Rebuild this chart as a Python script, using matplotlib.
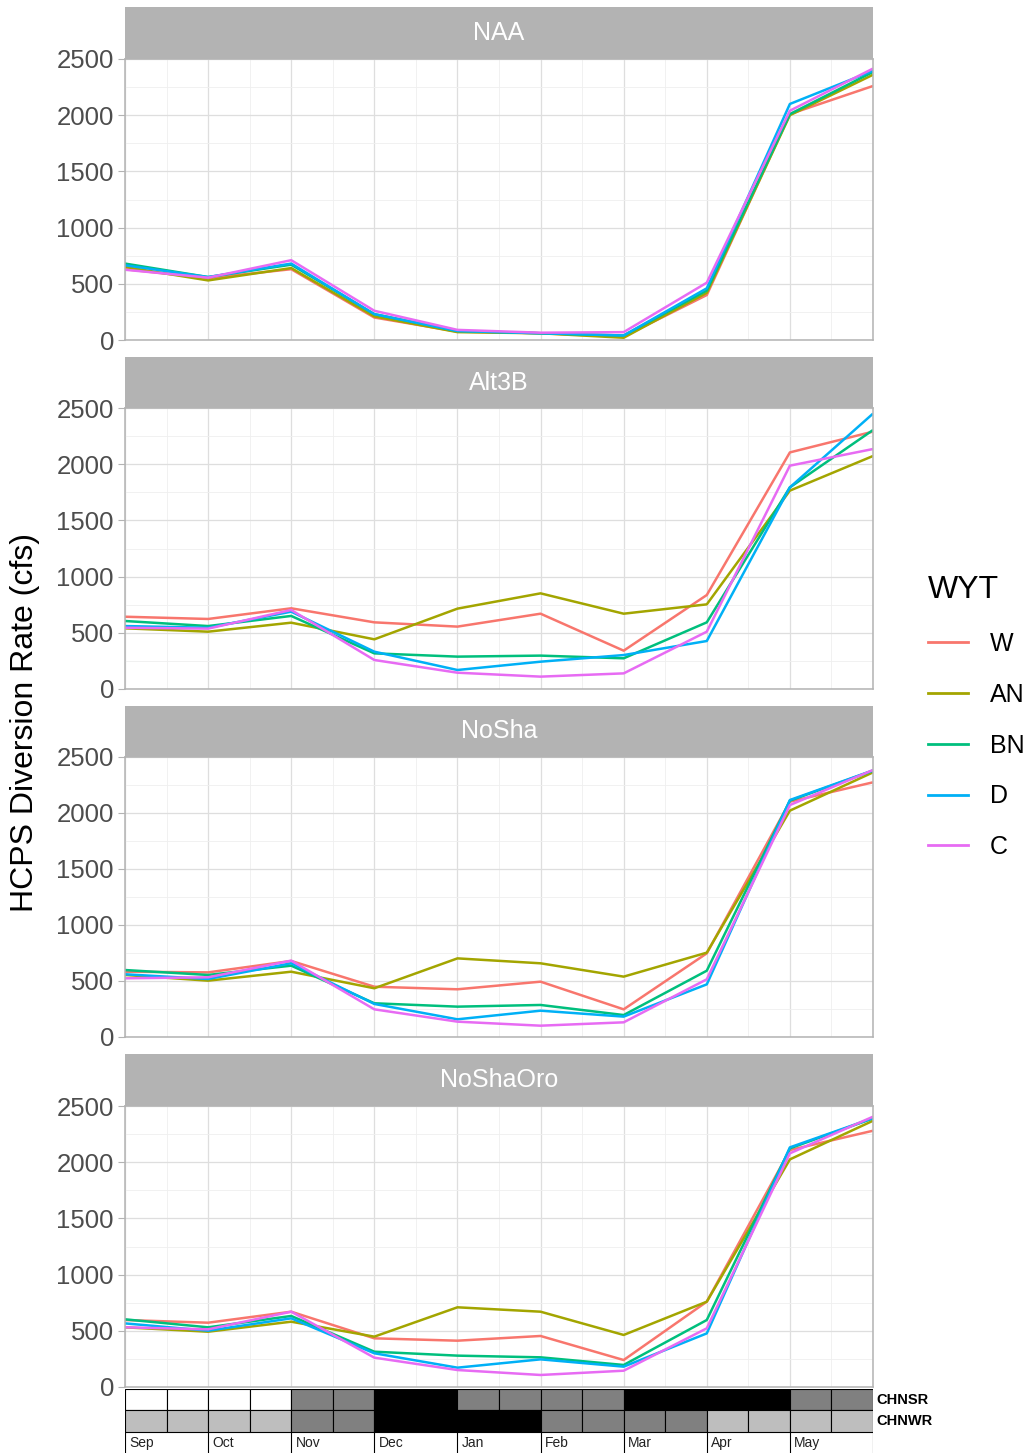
import numpy as np
import matplotlib
matplotlib.use("Agg")
import matplotlib.pyplot as plt
from matplotlib.patches import Rectangle
from matplotlib.lines import Line2D

plt.rcParams['font.family'] = ['Liberation Sans', 'DejaVu Sans']

# months on x axis (Sep..Jun), data at each month start
months = ["Sep", "Oct", "Nov", "Dec", "Jan", "Feb", "Mar", "Apr", "May", "Jun"]
wyt = ["W", "AN", "BN", "D", "C"]
colors = ["#F8766D", "#A3A500", "#00BF7D", "#00B0F6", "#E76BF3"]
scenarios = ["NAA", "Alt3B", "NoSha", "NoShaOro"]

naa_W  = [630, 550, 630, 200, 75, 60, 30, 400, 2010, 2260]
naa_AN = [650, 530, 640, 210, 70, 60, 20, 420, 2000, 2360]
naa_BN = [680, 560, 670, 230, 80, 60, 40, 440, 2010, 2385]
naa_D  = [665, 560, 680, 230, 80, 60, 40, 460, 2100, 2395]
naa_C  = [625, 555, 710, 260, 90, 65, 70, 510, 2040, 2415]

alt_W  = [643, 623, 718, 593, 555, 670, 341, 836, 2105, 2290]
alt_AN = [540, 510, 590, 442, 715, 851, 670, 753, 1765, 2073]
alt_BN = [605, 560, 650, 317, 288, 297, 273, 593, 1794, 2304]
alt_D  = [560, 545, 688, 332, 169, 243, 302, 427, 1794, 2450]
alt_C  = [545, 537, 703, 258, 145, 110, 139, 510, 1987, 2135]

nosha_W  = [583, 577, 679, 449, 426, 494, 247, 747, 2101, 2274]
nosha_AN = [554, 503, 583, 435, 702, 658, 539, 753, 2021, 2363]
nosha_BN = [598, 554, 637, 301, 271, 286, 196, 592, 2110, 2378]
nosha_D  = [560, 518, 658, 295, 158, 235, 182, 470, 2116, 2380]
nosha_C  = [524, 533, 682, 247, 137, 101, 131, 515, 2071, 2384]

oro_W  = [596, 572, 670, 433, 412, 454, 240, 759, 2108, 2280]
oro_AN = [531, 492, 581, 448, 709, 670, 463, 759, 2025, 2369]
oro_BN = [602, 531, 632, 314, 279, 264, 196, 596, 2123, 2390]
oro_D  = [566, 501, 611, 300, 172, 246, 181, 477, 2132, 2392]
oro_C  = [531, 513, 670, 261, 151, 107, 145, 522, 2079, 2405]

series = {
    "NAA": [naa_W, naa_AN, naa_BN, naa_D, naa_C],
    "Alt3B": [alt_W, alt_AN, alt_BN, alt_D, alt_C],
    "NoSha": [nosha_W, nosha_AN, nosha_BN, nosha_D, nosha_C],
    "NoShaOro": [oro_W, oro_AN, oro_BN, oro_D, oro_C],
}

# half-month run timing codes: 0 white, 1 light, 2 mid, 3 black
chnsr = [0, 0, 0, 0, 2, 2, 3, 3, 2, 2, 2, 2, 3, 3, 3, 3, 2, 2]
chnwr = [1, 1, 1, 1, 2, 2, 3, 3, 3, 3, 2, 2, 2, 2, 1, 1, 1, 1]
code_col = {0: "#ffffff", 1: "#bebebe", 2: "#808080", 3: "#000000"}
strip_months = months[:-1]

W, H = 1029, 1454
fig = plt.figure(figsize=(W / 100, H / 100), dpi=100)

def rect(x0, y0, x1, y1):
    return [x0 / W, 1 - y1 / H, (x1 - x0) / W, (y1 - y0) / H]

left, right = 125, 873
panels = [(7, 59, 340), (357, 408, 689), (706, 757, 1037), (1054, 1106, 1387)]
x = np.arange(1, len(months) + 1)

for name, (st, top, bot) in zip(scenarios, panels):
    sax = fig.add_axes(rect(left, st, right, top))
    sax.set_facecolor("#b3b3b3")
    sax.set_xticks([]); sax.set_yticks([])
    for s in sax.spines.values():
        s.set_visible(False)
    sax.text(0.5, 0.5, name, color="white", fontsize=18, ha="center", va="center",
             transform=sax.transAxes)

    ax = fig.add_axes(rect(left, top, right, bot))
    for vals, c, lab in zip(series[name], colors, wyt):
        ax.plot(x, vals, color=c, lw=1.8, label=lab, solid_capstyle="butt")
    ax.set_xlim(1, 10)
    ax.set_ylim(0, 2500)
    ax.set_xticks(x)
    ax.set_xticks(np.arange(1.5, 10, 1), minor=True)
    ax.set_yticks(np.arange(0, 2501, 500))
    ax.set_yticks(np.arange(250, 2500, 500), minor=True)
    ax.grid(which="major", color="#dedede", lw=0.9)
    ax.grid(which="minor", color="#efefef", lw=0.6)
    ax.set_axisbelow(True)
    ax.tick_params(axis="x", which="both", bottom=False, labelbottom=False)
    ax.tick_params(axis="y", which="minor", left=False)
    ax.tick_params(axis="y", which="major", colors="#b3b3b3", length=5,
                   labelcolor="#4d4d4d", labelsize=18.5, pad=3)
    for s in ax.spines.values():
        s.set_color("#b3b3b3")
        s.set_linewidth(1.1)

# run timing strip under the panels
bax = fig.add_axes(rect(left, 1389, right, 1453))
n = len(chnsr)
for i in range(n):
    bax.add_patch(Rectangle((i, 2), 1, 1, facecolor=code_col[chnsr[i]], edgecolor="black", lw=0.8))
    bax.add_patch(Rectangle((i, 1), 1, 1, facecolor=code_col[chnwr[i]], edgecolor="black", lw=0.8))
for j, m in enumerate(strip_months):
    bax.plot([2 * j, 2 * j], [0, 1], color="black", lw=0.8)
    bax.text(2 * j + 0.1, 0.45, m, fontsize=10, ha="left", va="center", color="#222222")
bax.plot([n, n], [0, 1], color="black", lw=0.8)
bax.set_xlim(0, n)
bax.set_ylim(0, 3)
bax.axis("off")
bax.text(n + 0.08, 2.5, "CHNSR", fontsize=10.5, fontweight="bold", ha="left", va="center")
bax.text(n + 0.08, 1.5, "CHNWR", fontsize=10.5, fontweight="bold", ha="left", va="center")

fig.text(25 / W, 1 - 722 / H, "HCPS Diversion Rate (cfs)", rotation=90, fontsize=23,
         ha="center", va="center")

handles = [Line2D([0], [0], color=c, lw=2) for c in colors]
leg = fig.legend(handles, wyt, title="WYT", loc="upper left",
                 bbox_to_anchor=(905 / W, 1 - 553 / H), frameon=False,
                 fontsize=18, title_fontsize=23, handlelength=1.6,
                 handletextpad=0.9, labelspacing=1.07)
leg._legend_box.align = "left"

fig.savefig("out.png", dpi=100, facecolor="white")
